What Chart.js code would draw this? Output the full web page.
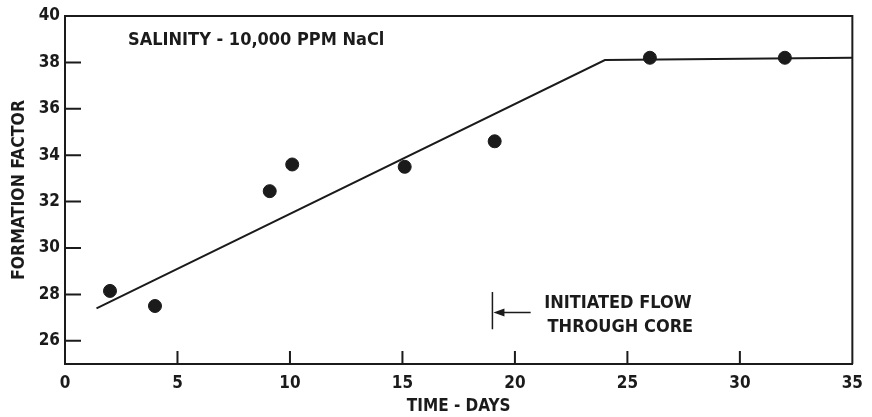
<!DOCTYPE html>
<html>
<head>
<meta charset="utf-8">
<script src="https://cdn.jsdelivr.net/npm/chart.js@4"></script>
<style>
  html, body { margin: 0; padding: 0; background: #fff; }
  #wrap { width: 872px; height: 417px; }
</style>
</head>
<body>
<div id="wrap"><canvas id="chart"></canvas></div>
<script>
// measured formation factor against time
const days = [2, 4, 9.1, 10.1, 15.1, 19.1, 26, 32];
const formationFactor = [28.15, 27.5, 32.45, 33.6, 33.5, 34.6, 38.2, 38.2];

// fitted trend: linear rise then plateau
const trendDays = [1.4, 24, 35];
const trendFactor = [27.4, 38.1, 38.2];

const xTickValues = [0, 5, 10, 15, 20, 25, 30, 35];
const yTickValues = [26, 28, 30, 32, 34, 36, 38, 40];

const headerText = 'SALINITY - 10,000 PPM NaCl';
const flowNote = ['INITIATED FLOW', 'THROUGH CORE'];
const flowDay = 19;

const INK = '#1b1b1b';
const FONT = '"Liberation Sans Narrow", "DejaVu Sans Condensed", "Liberation Sans", sans-serif';

// frame, inward ticks and the in-plot notes
const decorations = {
  id: 'decorations',
  afterDatasetsDraw(chart) {
    const { ctx, chartArea: a, scales: { x, y } } = chart;
    ctx.save();
    ctx.strokeStyle = INK;
    ctx.fillStyle = INK;
    ctx.lineWidth = 2;

    // top and right edges of the box
    ctx.beginPath();
    ctx.moveTo(a.left, a.top);
    ctx.lineTo(a.right, a.top);
    ctx.lineTo(a.right, a.bottom);
    ctx.stroke();

    // inward ticks, skipping the corners
    ctx.beginPath();
    xTickValues.slice(1, -1).forEach(v => {
      const px = x.getPixelForValue(v);
      ctx.moveTo(px, a.bottom);
      ctx.lineTo(px, a.bottom - 13);
    });
    yTickValues.slice(0, -1).forEach(v => {
      const py = y.getPixelForValue(v);
      ctx.moveTo(a.left, py);
      ctx.lineTo(a.left + 16, py);
    });
    ctx.stroke();

    // header inside the plot
    ctx.font = 'bold 18px ' + FONT;
    ctx.textBaseline = 'middle';
    ctx.textAlign = 'left';
    ctx.fillText(headerText, x.getPixelForValue(2.8), y.getPixelForValue(38.95));

    // flow marker: bar with arrow pointing at it
    const bx = x.getPixelForValue(flowDay);
    const ay = y.getPixelForValue(27.22);
    ctx.lineWidth = 1.5;
    ctx.beginPath();
    ctx.moveTo(bx, y.getPixelForValue(28.1));
    ctx.lineTo(bx, y.getPixelForValue(26.5));
    ctx.moveTo(bx + 8, ay);
    ctx.lineTo(x.getPixelForValue(20.7), ay);
    ctx.stroke();
    ctx.beginPath();
    ctx.moveTo(bx + 1, ay);
    ctx.lineTo(bx + 12, ay - 4);
    ctx.lineTo(bx + 12, ay + 4);
    ctx.closePath();
    ctx.fill();

    ctx.font = 'bold 18px ' + FONT;
    ctx.fillText(flowNote[0], x.getPixelForValue(21.3), y.getPixelForValue(27.6));
    ctx.fillText(flowNote[1], x.getPixelForValue(21.45), y.getPixelForValue(26.6));
    ctx.restore();
  }
};

new Chart(document.getElementById('chart'), {
  type: 'scatter',
  data: {
    datasets: [
      {
        label: 'Trend',
        data: trendDays.map((d, i) => ({ x: d, y: trendFactor[i] })),
        showLine: true,
        borderColor: INK,
        borderWidth: 2,
        pointRadius: 0,
        fill: false
      },
      {
        label: 'Formation factor',
        data: days.map((d, i) => ({ x: d, y: formationFactor[i] })),
        backgroundColor: INK,
        borderColor: INK,
        pointRadius: 6.5,
        showLine: false
      }
    ]
  },
  plugins: [decorations],
  options: {
    responsive: true,
    maintainAspectRatio: false,
    animation: false,
    layout: { padding: { top: 16, right: 16, left: 0, bottom: 0 } },
    plugins: {
      legend: { display: false },
      tooltip: { enabled: false }
    },
    scales: {
      x: {
        type: 'linear',
        min: 0,
        max: 35,
        afterBuildTicks: s => { s.ticks = xTickValues.map(v => ({ value: v })); },
        afterFit: s => { s.height = 53; },
        grid: { display: false, drawTicks: false },
        border: { display: true, color: INK, width: 2 },
        ticks: { color: INK, padding: 9, font: { family: FONT, size: 17, weight: 'bold' }, maxRotation: 0 },
        title: { display: true, text: 'TIME - DAYS', color: INK, padding: { top: 0, bottom: 0 }, font: { family: FONT, size: 17, weight: 'bold' } }
      },
      y: {
        type: 'linear',
        min: 25,
        max: 40,
        afterBuildTicks: s => { s.ticks = yTickValues.map(v => ({ value: v })); },
        afterFit: s => { s.width = 65; },
        grid: { display: false, drawTicks: false },
        border: { display: true, color: INK, width: 2 },
        ticks: { color: INK, padding: 5, font: { family: FONT, size: 17, weight: 'bold' } },
        title: { display: true, text: 'FORMATION FACTOR', color: INK, padding: { top: 9, bottom: 0 }, font: { family: FONT, size: 17.5, weight: 'bold' } }
      }
    }
  }
});
</script>
</body>
</html>
